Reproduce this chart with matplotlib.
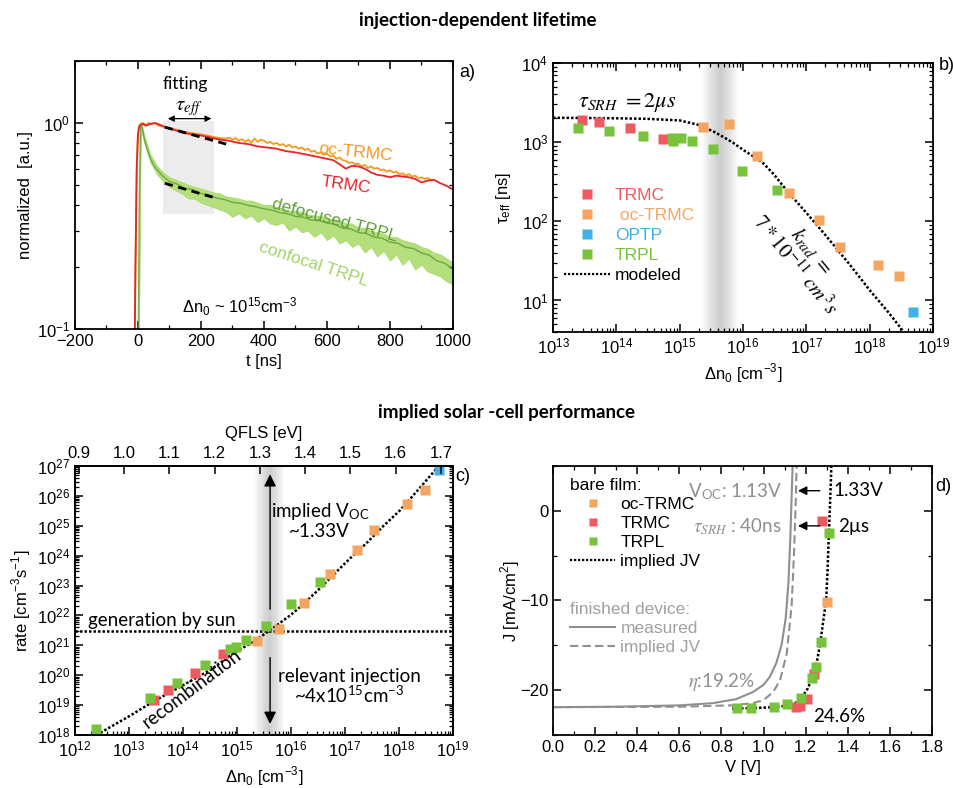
import matplotlib
matplotlib.use('Agg')
from matplotlib import pyplot as plt
from matplotlib.ticker import LogLocator, MultipleLocator, NullFormatter, FormatStrFormatter
from matplotlib.lines import Line2D
import numpy as np

plt.rcParams['font.family'] = ['Liberation Sans', 'DejaVu Sans']
plt.rcParams['mathtext.fontset'] = 'stix'
plt.rcParams['font.size'] = 12
plt.rcParams['axes.linewidth'] = 1.3

RED = '#ee5a5f'
ORANGE = '#f5a55f'
BLUE = '#3fb0e8'
GREEN = '#78c33c'
GRAY = '#8f8f8f'
CAL = ['Lato', 'DejaVu Sans']

# ---------------- panel a: transients ----------------
trmc_t = [-12, -8, -4, 0, 4, 8, 15, 25, 40, 55, 70, 90, 110, 140, 170, 200, 230, 260, 290, 320,
          350, 380, 410, 440, 470, 500, 530, 560, 590, 620, 640, 660, 680, 700, 720, 740, 760,
          780, 800, 820, 840, 860, 880, 900, 920, 940, 960, 980, 1000]
trmc_v = [0.05, 0.2, 0.6, 0.88, 0.96, 0.98, 0.99, 0.97, 0.99, 1.0, 0.98, 0.95, 0.93, 0.9, 0.88,
          0.87, 0.85, 0.83, 0.82, 0.8, 0.79, 0.77, 0.76, 0.75, 0.73, 0.72, 0.705, 0.69, 0.675,
          0.66, 0.63, 0.6, 0.62, 0.615, 0.6, 0.575, 0.56, 0.555, 0.545, 0.555, 0.55, 0.545,
          0.535, 0.515, 0.525, 0.53, 0.51, 0.495, 0.475]

octrmc_t = [-12, -8, -4, 0, 4, 8, 15, 25, 35, 45, 55, 65, 80, 100, 120, 140, 160, 180, 200, 220,
            240, 260, 280, 290, 300, 310, 320, 330, 340, 350, 360, 370, 380, 390, 400, 410, 420,
            430, 440, 450, 460, 470, 480, 490, 500, 510, 520, 530, 540, 550, 560, 570, 580, 590,
            600, 610, 620, 630, 640, 650, 660, 670, 680, 690, 700, 710, 720, 730, 740, 750, 760,
            770, 780, 790, 800, 810, 820, 830, 840, 850, 860, 870, 880, 890, 900, 910, 920, 930]
octrmc_v = [0.05, 0.2, 0.6, 0.9, 0.97, 0.99, 1.0, 0.98, 1.0, 0.99, 1.0, 0.97, 0.96, 0.94, 0.93,
            0.91, 0.9, 0.89, 0.88, 0.87, 0.855, 0.845, 0.84, 0.85, 0.83, 0.845, 0.82, 0.835,
            0.81, 0.83, 0.80, 0.84, 0.81, 0.83, 0.82, 0.80, 0.81, 0.79, 0.80, 0.78, 0.79, 0.77,
            0.785, 0.76, 0.77, 0.75, 0.76, 0.74, 0.75, 0.725, 0.735, 0.71, 0.72, 0.70, 0.71,
            0.69, 0.695, 0.67, 0.68, 0.66, 0.655, 0.64, 0.645, 0.63, 0.635, 0.615, 0.625, 0.605,
            0.615, 0.60, 0.605, 0.59, 0.595, 0.58, 0.59, 0.575, 0.58, 0.565, 0.57, 0.555, 0.565,
            0.55, 0.555, 0.54, 0.545, 0.535, 0.54, 0.53]

defoc_t = [0, 4, 8, 12, 20, 30, 40, 50, 60, 80, 100, 125, 150, 175, 200, 225, 250, 275, 300,
           325, 350, 375, 400, 425, 450, 475, 500, 525, 550, 575, 600, 625, 650, 675, 700, 725,
           750, 775, 800, 825, 850, 875, 900, 925, 950, 975, 1000]
defoc_v = [0.05, 0.4, 0.95, 0.97, 0.84, 0.74, 0.67, 0.625, 0.595, 0.55, 0.52, 0.505, 0.48,
           0.475, 0.455, 0.448, 0.432, 0.425, 0.412, 0.408, 0.398, 0.392, 0.383, 0.378, 0.367,
           0.363, 0.352, 0.349, 0.338, 0.336, 0.327, 0.322, 0.309, 0.306, 0.294, 0.291, 0.279,
           0.276, 0.264, 0.261, 0.249, 0.246, 0.234, 0.228, 0.214, 0.208, 0.195]

# confocal TRPL: noisy trace, kept as its upper / lower envelope
conf_t = [2, 6, 9, 12, 20, 40, 60, 80, 100, 120, 140, 160, 180, 200, 220, 240, 260, 280, 300,
          320, 340, 360, 380, 400, 420, 440, 460, 480, 500, 520, 540, 560, 580, 600, 620, 640,
          660, 680, 700, 720, 740, 760, 780, 800, 820, 840, 860, 880, 900, 920, 940, 960, 980,
          1000]
conf_hi = [0.05, 0.5, 0.99, 0.98, 0.87, 0.70, 0.62, 0.575, 0.545, 0.53, 0.515, 0.50, 0.49,
           0.48, 0.47, 0.46, 0.455, 0.44, 0.435, 0.43, 0.42, 0.42, 0.41, 0.40, 0.40, 0.39,
           0.385, 0.375, 0.375, 0.37, 0.36, 0.355, 0.355, 0.345, 0.34, 0.335, 0.325, 0.325,
           0.31, 0.31, 0.30, 0.295, 0.29, 0.28, 0.28, 0.27, 0.265, 0.26, 0.25, 0.245, 0.235,
           0.23, 0.22, 0.21]
conf_lo = [0.05, 0.45, 0.92, 0.9, 0.80, 0.64, 0.565, 0.52, 0.49, 0.47, 0.455, 0.43, 0.43,
           0.41, 0.40, 0.39, 0.38, 0.37, 0.35, 0.365, 0.345, 0.355, 0.33, 0.345, 0.325, 0.32,
           0.33, 0.30, 0.315, 0.295, 0.30, 0.28, 0.295, 0.27, 0.285, 0.26, 0.27, 0.25, 0.26,
           0.235, 0.25, 0.225, 0.24, 0.215, 0.23, 0.205, 0.22, 0.195, 0.205, 0.19, 0.185, 0.18,
           0.17, 0.165]

fit_trmc_t = [85, 280]
fit_trmc_v = [0.955, 0.79]
fit_trpl_t = [85, 240]
fit_trpl_v = [0.51, 0.435]

# ---------------- panel b: tau_eff vs injection ----------------
b_trmc_n = [2.9e13, 5.4e13, 1.64e14, 5.5e14]
b_trmc_tau = [1885, 1810, 1490, 1100]
b_oc_n = [2.3e15, 5.9e15, 1.68e16, 5.3e16, 1.6e17, 3.4e17, 1.37e18, 2.95e18]
b_oc_tau = [1550, 1710, 677, 226, 104, 48, 28.3, 20.3]
b_optp_n = [4.9e18]
b_optp_tau = [7.05]
b_trpl_n = [2.5e13, 7.7e13, 2.6e14, 7.5e14, 7.7e14, 1.04e15, 1.56e15, 3.3e15, 9.8e15, 3.4e16]
b_trpl_tau = [1500, 1400, 1180, 1135, 1030, 1124, 1030, 810, 430, 252]
b_model_n = [1e13, 3e13, 1e14, 3e14, 1e15, 2e15, 3.5e15, 5e15, 7e15, 1e16, 1.5e16, 2e16, 3e16,
             5e16, 1e17, 2e17, 5e17, 1e18, 2e18, 3.3e18]
b_model_tau = [2030, 2020, 2000, 1970, 1880, 1650, 1350, 1150, 980, 800, 650, 560, 400, 240,
               128, 67, 27.5, 13.5, 7.0, 4.2]

# ---------------- panel c: rates ----------------
c_trmc_n = [2.9e13, 5.3e13, 1.66e14, 5.6e14]
c_trmc_r = [1.48e19, 3.2e19, 1.14e20, 5.1e20]
c_oc_n = [2.3e15, 6.0e15, 1.74e16, 5.2e16, 1.7e17, 3.5e17, 1.42e18, 3.0e18]
c_oc_r = [1.42e21, 3.6e21, 2.6e22, 2.4e23, 1.6e24, 7.2e24, 5.2e25, 1.55e26]
c_optp_n = [5.4e18]
c_optp_r = [7.2e26]
c_trpl_n = [2.5e12, 2.5e13, 7.6e13, 2.6e14, 7.4e14, 9.8e14, 1.5e15, 3.5e15, 1.0e16, 3.4e16]
c_trpl_r = [1.55e18, 1.7e19, 5.6e19, 2.15e20, 7.4e20, 8.9e20, 1.5e21, 4.5e21, 2.5e22, 1.34e23]
c_model_n = [2.5e12, 1e13, 2.8e13, 1e14, 3.2e14, 8.5e14, 2e15, 4.4e15, 1e16, 1.5e16, 3.2e16,
             6e16, 1.26e17, 2.5e17, 5e17, 1.05e18, 2.2e18, 5e18, 7e18]
c_model_r = [1.0e18, 4.2e18, 1.3e19, 4.6e19, 1.5e20, 5.4e20, 1.3e21, 3.5e21, 1.05e22, 1.95e22,
             7.1e22, 2.2e23, 8.3e23, 2.6e24, 9.3e24, 3.3e25, 1.5e26, 8.3e26, 1.6e27]
sun_rate = 3.1e21
inj_n = 4.1e15
qfls_ticks = [0.9, 1.0, 1.1, 1.2, 1.3, 1.4, 1.5, 1.6, 1.7]

# ---------------- panel d: JV ----------------
d_trpl_v = [0.872, 0.939, 1.049, 1.110, 1.176, 1.231, 1.247, 1.271, 1.311]
d_trpl_j = [-22.04, -22.04, -21.86, -21.6, -20.85, -18.68, -17.38, -14.61, -2.53]
d_trmc_v = [1.155, 1.175, 1.205, 1.241, 1.279]
d_trmc_j = [-21.86, -21.8, -21.03, -18.23, -1.19]
d_oc_v = [1.300]
d_oc_j = [-10.16]
d_model_v = [0.85, 0.95, 1.05, 1.10, 1.15, 1.18, 1.21, 1.235, 1.255, 1.27, 1.285, 1.297, 1.304,
             1.310, 1.315, 1.319, 1.322]
d_model_j = [-22.05, -22.0, -21.9, -21.75, -21.45, -20.9, -19.8, -18.4, -16.6, -14.6, -12.0,
             -10.0, -6.5, -2.5, 0.5, 3.0, 5.2]
meas_v = [0.0, 0.3, 0.6, 0.76, 0.87, 0.95, 1.00, 1.03, 1.06, 1.085, 1.105, 1.118, 1.127, 1.133, 1.138]
meas_j = [-21.9, -21.85, -21.7, -21.45, -21.0, -20.2, -19.4, -18.5, -17.0, -15.0, -12.0, -8.0,
          -3.0, 1.5, 5.2]
impl_v = [0.0, 0.6, 0.85, 0.95, 1.0, 1.046, 1.078, 1.11, 1.133, 1.145, 1.152, 1.157]
impl_j = [-21.9, -21.85, -21.7, -21.45, -21.1, -20.2, -18.9, -15.9, -10.6, -4.5, 0.5, 5.2]

DOT = (0, (1, 0.8))


def style_axes(ax, top=True):
    ax.tick_params(which='both', direction='in', top=top, right=True, labelsize=12)
    ax.tick_params(which='major', length=6, width=1.1)
    ax.tick_params(which='minor', length=3, width=0.9)


def log_minor(axis):
    axis.set_major_locator(LogLocator(base=10, numticks=30))
    axis.set_minor_locator(LogLocator(base=10, subs=np.arange(2, 10), numticks=300))
    axis.set_minor_formatter(NullFormatter())


def shade_band(ax, lo, hi, n=12):
    # nested spans -> darker in the centre
    c = np.sqrt(lo * hi)
    for k in range(n):
        f = 1 - k / n
        ax.axvspan(c * (lo / c) ** f, c * (hi / c) ** f, color='#8a8a8a', alpha=0.04, lw=0, zorder=0)


fig = plt.figure(figsize=(9.54, 7.88), dpi=100)

# ---- a ----
axa = fig.add_axes([0.0786, 0.5825, 0.3962, 0.3401])
axa.set_yscale('log')
axa.fill_between([80, 240], 0.36, 1.02, color='#ececec', lw=0, zorder=0)
axa.fill_between(conf_t, conf_lo, conf_hi, color='#b4df7c', lw=0.6, edgecolor='#a8d96c')
axa.plot(defoc_t, defoc_v, color='#5f9f35', lw=1.0, alpha=0.85)
axa.plot(octrmc_t, octrmc_v, color='#f39a1e', lw=1.3)
axa.plot(trmc_t, trmc_v, color='#e8232a', lw=1.3)
axa.plot(fit_trmc_t, fit_trmc_v, color='k', lw=2, dashes=(3, 2))
axa.plot(fit_trpl_t, fit_trpl_v, color='k', lw=2, dashes=(3, 2))
axa.set_xlim(-200, 1000)
axa.set_ylim(0.1, 2)
axa.xaxis.set_major_locator(MultipleLocator(200))
axa.xaxis.set_minor_locator(MultipleLocator(100))
log_minor(axa.yaxis)
style_axes(axa)
axa.set_xlabel('t [ns]')
axa.set_ylabel('normalized  [a.u.]')
axa.yaxis.set_label_coords(-0.111, 0.5)
axa.annotate('', xy=(86, 1.05), xytext=(242, 1.05),
             arrowprops=dict(arrowstyle='<|-|>', color='k', lw=0.9, mutation_scale=9))
axa.text(149, 1.55, 'fitting', family=CAL, fontsize=12.5, ha='center', va='center')
axa.text(160, 1.17, r'$\tau_{eff}$', fontsize=15, ha='center', va='center')
axa.text(692, 0.723, 'oc-TRMC', color='#f39a1e', fontsize=12.5, ha='center', va='center', rotation=-6)
axa.text(659, 0.498, 'TRMC', color='#e8232a', fontsize=12.5, ha='center', va='center', rotation=-8)
axa.text(625, 0.337, 'defocused TRPL', color='#5f9f35', fontsize=12.5, ha='center', va='center',
         rotation=-15)
axa.text(559, 0.206, 'confocal TRPL', color='#a2d468', fontsize=12.5, ha='center', va='center',
         rotation=-18)
axa.text(324, 0.128, r'$\mathregular{\Delta n_0}$ ~ $\mathregular{10^{15}cm^{-3}}$', fontsize=12,
         ha='center', va='center')

# ---- b ----
axb = fig.add_axes([0.5797, 0.5787, 0.3983, 0.3414])
axb.set_xscale('log')
axb.set_yscale('log')
shade_band(axb, 2.3e15, 8.3e15)
axb.plot(b_model_n, b_model_tau, color='k', lw=1.8, ls=DOT)
ms = 7
axb.plot(b_trmc_n, b_trmc_tau, 's', color=RED, ms=ms, mec='none')
axb.plot(b_trpl_n, b_trpl_tau, 's', color=GREEN, ms=ms, mec='none')
axb.plot(b_oc_n, b_oc_tau, 's', color=ORANGE, ms=ms, mec='none')
axb.plot(b_optp_n, b_optp_tau, 's', color=BLUE, ms=ms, mec='none')
axb.set_xlim(1e13, 1e19)
axb.set_ylim(4, 1e4)
log_minor(axb.xaxis)
log_minor(axb.yaxis)
style_axes(axb)
axb.set_xlabel(r'$\mathregular{\Delta n_0}$ [cm$^\mathregular{-3}$]')
axb.set_ylabel(r'$\mathregular{\tau_{eff}}$ [ns]')
axb.yaxis.set_label_coords(-0.105, 0.5)
axb.text(1.48e14, 3180, r'$\tau_{SRH}\ = 2\mu s$', fontsize=16, ha='center', va='center')
axb.text(1.18e17, 42, r'$k_{rad}\ =$', fontsize=15, ha='center', va='center', rotation=-51,
         rotation_mode='anchor')
axb.text(6.7e16, 28.3, r'$7 * 10^{-11}\ cm^3 s$', fontsize=15, ha='center', va='center',
         rotation=-51, rotation_mode='anchor')
hb = [Line2D([], [], ls='none', marker='s', ms=6.5, color=c, mec='none') for c in (RED, ORANGE, BLUE, GREEN)]
hb.append(Line2D([], [], color='k', lw=1.6, ls=DOT))
legb = axb.legend(hb, ['TRMC', ' oc-TRMC', 'OPTP', 'TRPL', 'modeled'], loc='upper left',
                  bbox_to_anchor=(0.03, 0.535), frameon=False, handlelength=2.6, handletextpad=0.3,
                  borderaxespad=0, borderpad=0, labelspacing=0.28, fontsize=12.5)
for txt, col in zip(legb.get_texts(), (RED, ORANGE, BLUE, GREEN, 'k')):
    txt.set_color(col)

# ---- c ----
axc = fig.add_axes([0.0786, 0.0673, 0.3962, 0.3414])
axc.set_xscale('log')
axc.set_yscale('log')
shade_band(axc, 2.1e15, 7.5e15)
axc.axhline(sun_rate, color='k', lw=1.8, ls=DOT)
axc.plot(c_model_n, c_model_r, color='k', lw=1.8, ls=DOT)
axc.plot(c_trmc_n, c_trmc_r, 's', color=RED, ms=ms, mec='none')
axc.plot(c_trpl_n, c_trpl_r, 's', color=GREEN, ms=ms, mec='none')
axc.plot(c_oc_n, c_oc_r, 's', color=ORANGE, ms=ms, mec='none')
axc.plot(c_optp_n, c_optp_r, 's', color=BLUE, ms=ms, mec='none')
axc.set_xlim(1e12, 1e19)
axc.set_ylim(1e18, 1e27)
log_minor(axc.xaxis)
log_minor(axc.yaxis)
style_axes(axc, top=False)
axc.set_xlabel(r'$\mathregular{\Delta n_0}$ [cm$^\mathregular{-3}$]')
axc.set_ylabel(r'rate [cm$^\mathregular{-3}$s$^\mathregular{-1}$]')
axc.yaxis.set_label_coords(-0.112, 0.5)
axc.annotate('', xy=(inj_n, 6.5e26), xytext=(inj_n, 1.3e22),
             arrowprops=dict(arrowstyle='-|>', color='k', lw=1, mutation_scale=18))
axc.annotate('', xy=(inj_n, 1.9e18), xytext=(inj_n, 4.8e20),
             arrowprops=dict(arrowstyle='-|>', color='k', lw=1, mutation_scale=18))
axc.text(4.1e13, 7e21, 'generation by sun', family=CAL, fontsize=13.5, ha='center', va='center')
axc.text(1.45e14, 3.6e19, 'recombination', family=CAL, fontsize=13.5, ha='center', va='center',
         rotation=37)
axc.text(3.5e16, 2.9e25, r'implied V$_\mathregular{OC}$', family=CAL, fontsize=13.5, ha='center',
         va='center')
axc.text(3.3e16, 6.3e24, '~1.33V', family=CAL, fontsize=13.5, ha='center', va='center')
axc.text(1.2e17, 9e19, 'relevant injection', family=CAL, fontsize=13.5, ha='center', va='center')
axc.text(1.2e17, 2.2e19, r'~4x10$^\mathregular{15}$cm$^\mathregular{-3}$', family=CAL, fontsize=13.5,
         ha='center', va='center')
axq = axc.twiny()
axq.set_xlim(0.891, 1.727)
axq.set_xticks(qfls_ticks)
axq.tick_params(direction='in', length=6, width=1.1, labelsize=12)
axq.set_xlabel('QFLS [eV]', labelpad=6)

# ---- d ----
axd = fig.add_axes([0.5797, 0.0673, 0.3973, 0.3414])
axd.plot(meas_v, meas_j, color=GRAY, lw=1.5)
axd.plot(impl_v, impl_j, color=GRAY, lw=1.5, dashes=(4, 2))
axd.plot(d_model_v, d_model_j, color='k', lw=1.8, ls=DOT)
msd = 6.5
axd.plot(d_trmc_v, d_trmc_j, 's', color=RED, ms=msd, mec='none')
axd.plot(d_trpl_v, d_trpl_j, 's', color=GREEN, ms=msd, mec='none')
axd.plot(d_oc_v, d_oc_j, 's', color=ORANGE, ms=msd, mec='none')
axd.set_xlim(0, 1.8)
axd.set_ylim(-25, 5)
axd.xaxis.set_major_locator(MultipleLocator(0.2))
axd.xaxis.set_minor_locator(MultipleLocator(0.1))
axd.yaxis.set_major_locator(MultipleLocator(10))
axd.yaxis.set_minor_locator(MultipleLocator(5))
axd.xaxis.set_major_formatter(FormatStrFormatter('%.1f'))
style_axes(axd)
axd.set_xlabel('V [V]')
axd.set_ylabel(r'J [mA/cm$^\mathregular{2}$]')
axd.yaxis.set_label_coords(-0.082, 0.5)
for jy in (2.24, -1.68):
    axd.annotate('', xy=(1.15, jy), xytext=(1.28, jy),
                 arrowprops=dict(arrowstyle='-|>', color='k', lw=1, mutation_scale=13))
axd.text(1.087, 2.13, r'V$_\mathregular{OC}$: 1.13V', family=CAL, color=GRAY, fontsize=13.5,
         ha='right', va='center')
axd.text(1.086, -1.75, r'$\tau_{SRH}$ : 40ns', family=CAL, color=GRAY, fontsize=13.5,
         ha='right', va='center')
axd.text(1.334, 2.24, '1.33V', family=CAL, fontsize=13.5, ha='left', va='center')
axd.text(1.355, -1.7, '2\u00b5s', family=CAL, fontsize=13.5, ha='left', va='center')
axd.text(1.236, -22.9, '24.6%', family=CAL, fontsize=13.5, ha='left', va='center')
axd.text(0.80, -19.1, r'$\eta$:19.2%', family=CAL, color=GRAY, fontsize=13.5, ha='center',
         va='center')
hd = [Line2D([], [], ls='none', marker='s', ms=6, color=c, mec='none') for c in (ORANGE, RED, GREEN)]
hd.append(Line2D([], [], color='k', lw=1.6, ls=DOT))
legd = axd.legend(hd, ['oc-TRMC', 'TRMC', 'TRPL', 'implied JV'], loc='upper left',
                  bbox_to_anchor=(0.045, 0.955), frameon=False, handlelength=2.6,
                  handletextpad=0.3, borderaxespad=0, borderpad=0, labelspacing=0.22,
                  fontsize=12.5, title='bare film:', title_fontsize=12.5, alignment='left')
axd.add_artist(legd)
hd2 = [Line2D([], [], color=GRAY, lw=1.5), Line2D([], [], color=GRAY, lw=1.5, dashes=(4, 2))]
legd2 = axd.legend(hd2, ['measured', 'implied JV'], loc='upper left',
                   bbox_to_anchor=(0.045, 0.495), frameon=False, handlelength=2.6,
                   handletextpad=0.3, borderaxespad=0, borderpad=0, labelspacing=0.22,
                   fontsize=12.5, title='finished device:', title_fontsize=12.5, alignment='left')
legd2.get_title().set_color('#a0a0a0')
for txt in legd2.get_texts():
    txt.set_color('#a0a0a0')

# ---- titles and panel letters ----
fig.text(0.501, 0.9746, 'injection-dependent lifetime', family=CAL, fontweight='bold',
         fontsize=13.5, ha='center', va='center')
fig.text(0.531, 0.476, 'implied solar -cell performance', family=CAL, fontweight='bold',
         fontsize=13.5, ha='center', va='center')
for s, x, y in (('a)', 0.4895, 0.9086), ('b)', 0.9927, 0.9175), ('c)', 0.4853, 0.3947),
                ('d)', 0.9885, 0.382)):
    fig.text(x, y, s, fontsize=13, ha='center', va='center')

fig.savefig('out.png', dpi=100)
